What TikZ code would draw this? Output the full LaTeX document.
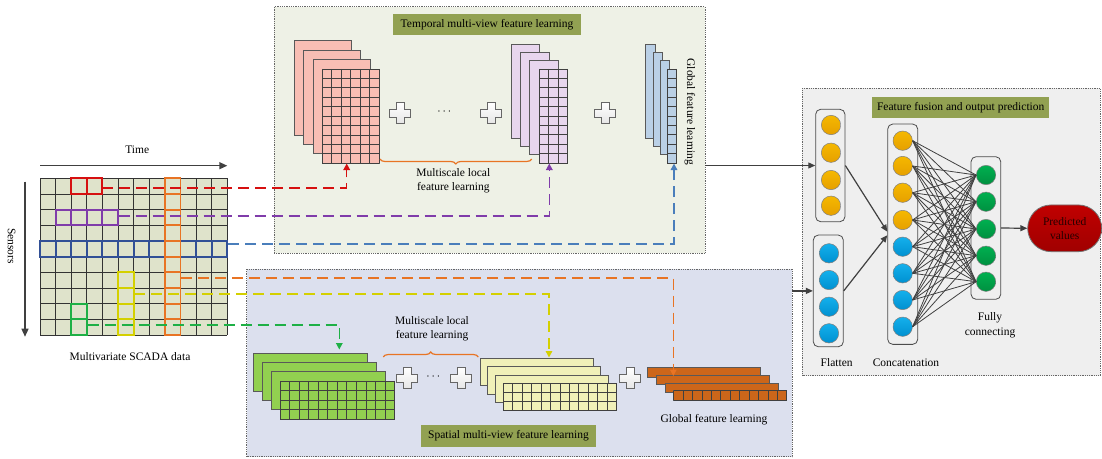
\documentclass[tikz,border=0pt]{standalone}
\usepackage{fontspec}
\setmainfont{Liberation Serif}
\usetikzlibrary{arrows.meta,decorations.pathreplacing,calc,shapes.misc}
\definecolor{tempbg}{RGB}{238,241,230}
\definecolor{spatbg}{RGB}{220,224,238}
\definecolor{fusbg}{RGB}{239,239,239}
\definecolor{olive}{RGB}{146,161,82}
\definecolor{scada}{RGB}{223,227,203}
\definecolor{pinkf}{RGB}{248,190,180}
\definecolor{lavf}{RGB}{232,214,238}
\definecolor{bluef}{RGB}{186,208,230}
\definecolor{greenf}{RGB}{146,208,80}
\definecolor{yellf}{RGB}{240,240,184}
\definecolor{orgf}{RGB}{204,102,26}
\definecolor{lnred}{RGB}{214,16,16}
\definecolor{lnpurp}{RGB}{128,60,170}
\definecolor{lnblue}{RGB}{50,80,150}
\definecolor{lnbluel}{RGB}{74,126,187}
\definecolor{lnorg}{RGB}{232,116,36}
\definecolor{lnyel}{RGB}{212,208,0}
\definecolor{lngreen}{RGB}{30,176,70}
\definecolor{bally}{RGB}{245,184,0}
\definecolor{ballyd}{RGB}{230,160,0}
\definecolor{ballb}{RGB}{20,176,236}
\definecolor{ballbd}{RGB}{0,144,208}
\definecolor{ballg}{RGB}{0,176,80}
\definecolor{ballgd}{RGB}{0,144,64}
\definecolor{predred}{RGB}{192,0,0}
\definecolor{predd}{RGB}{160,0,0}
\newcommand\drawstack[9]{%
  \foreach \k in {0,1,2,3}{%
    \draw[stackline,fill=#9] ({#1+\k*#3},{#2+\k*#4}) rectangle ++(#5,#6);
  }%
  \foreach \i in {0,...,#7}{%
    \draw[gridln] ({#1+3*#3+\i*#5/#7},{#2+3*#4}) -- ++(0,#6);
  }%
  \foreach \j in {0,...,#8}{%
    \draw[gridln] ({#1+3*#3},{#2+3*#4+\j*#6/#8}) -- ++(#5,0);
  }%
}
\begin{document}
\begin{tikzpicture}[x=1pt,y=-1pt,
  font=\fontsize{11.5}{14.2}\selectfont,
  panel/.style={draw=black!60,densely dotted,line width=0.8pt},
  titlebox/.style={fill=olive,inner sep=0pt,text=black},
  stackline/.style={draw=black!65,line width=0.7pt},
  gridln/.style={draw=black!75,line width=0.7pt},
  cellbox/.style={line width=1.9pt},
  conn/.style={line width=1.5pt,dash pattern=on 11pt off 6pt,-{Triangle[length=6.5pt,width=6.5pt]}},
  axisarr/.style={draw=black!75,line width=1.4pt,-{Triangle[length=8pt,width=7pt]}},
  arr/.style={draw=black!75,line width=1.2pt,-{Triangle[length=7pt,width=6pt]}},
  nnbox/.style={draw=black!70,rounded corners=5pt,line width=0.8pt,inner sep=0pt},
  ball/.style={circle,draw=black!50,line width=0.5pt,minimum size=19.4pt,inner sep=0pt},
  yball/.style={ball,top color=bally,bottom color=ballyd},
  bball/.style={ball,top color=ballb,bottom color=ballbd},
  gball/.style={ball,top color=ballg,bottom color=ballgd},
  plussign/.pic={\draw[draw=black!60,line width=1pt,top color=white,bottom color=black!10]
     (-4,-10.5) -- (4,-10.5) -- (4,-4) -- (10.5,-4) -- (10.5,4) -- (4,4) -- (4,10.5)
     -- (-4,10.5) -- (-4,4) -- (-10.5,4) -- (-10.5,-4) -- (-4,-4) -- cycle;},
  lbl/.style={align=center,inner sep=0pt}
]
\useasboundingbox (0,0) rectangle (1102,458);
\fill[white] (0,0) rectangle (1102,458);

% ---------- panels
\draw[panel,fill=tempbg] (274,6.7) rectangle (705,253.3);
\draw[panel,fill=spatbg] (246.7,269) rectangle (792.3,456.7);
\draw[panel,fill=fusbg] (802,88.3) rectangle (1100,375.7);

\node[titlebox,minimum width=187.4pt,minimum height=21pt] (ttitle) at (487,24.5) {Temporal multi-view feature learning};
\node[titlebox,minimum width=175pt,minimum height=21.7pt] (stitle) at (508.5,436) {Spatial multi-view feature learning};
\node[titlebox,minimum width=176.7pt,minimum height=21pt] (ftitle) at (960.7,107.8) {Feature fusion and output prediction};

% ---------- SCADA grid
\def\cw{15.608}\def\chh{15.67}
\fill[scada] (40,178.3) rectangle (227.3,335);
\foreach \i in {0,...,12} \draw[gridln,draw=black!80] ({40+\i*\cw},178.3) -- ++(0,156.7);
\foreach \j in {0,...,10} \draw[gridln,draw=black!80] (40,{178.3+\j*\chh}) -- (227.3,{178.3+\j*\chh});
\foreach \c in {2,3} \draw[cellbox,draw=lnred] ({40+\c*\cw},178.3) rectangle ++(\cw,\chh);
\foreach \c in {1,...,4} \draw[cellbox,draw=lnpurp] ({40+\c*\cw},{178.3+2*\chh}) rectangle ++(\cw,\chh);
\foreach \c in {0,...,11} \draw[cellbox,draw=lnblue] ({40+\c*\cw},{178.3+4*\chh}) rectangle ++(\cw,\chh);
\foreach \r in {6,...,9} \draw[cellbox,draw=lnyel] ({40+5*\cw},{178.3+\r*\chh}) rectangle ++(\cw,\chh);
\foreach \r in {8,9} \draw[cellbox,draw=lngreen] ({40+2*\cw},{178.3+\r*\chh}) rectangle ++(\cw,\chh);
\foreach \r in {0,...,9} \draw[cellbox,draw=lnorg] ({40+8*\cw},{178.3+\r*\chh}) rectangle ++(\cw,\chh);

\coordinate (t0) at (40,165.7); \coordinate (t1) at (227.3,165.7);
\draw[axisarr] (t0) -- (t1);
\node[lbl] (timelbl) at (137.3,150) {Time};
\coordinate (s0) at (25,181.7); \coordinate (s1) at (25,336.7);
\draw[axisarr] (s0) -- (s1);
\node[lbl,rotate=-90] (senslbl) at (11.7,246) {Sensors};
\node[lbl] (scadalbl) at (130,356.7) {Multivariate SCADA data};

% ---------- temporal stacks
\drawstack{294.3}{40.7}{9.3}{9.4}{57}{94.3}{6}{10}{pinkf}
\drawstack{511}{44.3}{9.4}{8.2}{28.5}{94}{3}{10}{lavf}
\drawstack{645.7}{44.3}{7.2}{8.2}{9.2}{94}{1}{10}{bluef}
\pic at (400,113) {plussign};
\pic at (491,113) {plussign};
\pic at (605,113) {plussign};
\node[lbl] (tdots) at (444.3,112) {$\cdots$};
\draw[lnorg,line width=1.2pt,decorate,decoration={brace,mirror,amplitude=5pt}] (380,159) -- (531.7,159);
\node[lbl] (tmlabel) at (453.3,180.5) {Multiscale local\\feature learning};
\node[lbl,rotate=-90] (tglabel) at (690,112) {Global feature learning};

% ---------- spatial stacks
\drawstack{253.3}{353.3}{8.9}{9.2}{114.5}{38}{12}{4}{greenf}
\drawstack{480}{358.3}{7.8}{8.3}{113}{27.5}{12}{3}{yellf}
\drawstack{647.3}{367.3}{8.8}{7.8}{113}{9.6}{12}{1}{orgf}
\pic at (407,378) {plussign};
\pic at (461,378) {plussign};
\pic at (630,378.3) {plussign};
\node[lbl] (sdots) at (433.3,377) {$\cdots$};
\draw[lnorg,line width=1.2pt,decorate,decoration={brace,amplitude=5pt}] (383.3,357) -- (478.3,357);
\node[lbl] (smlabel) at (432,328.7) {Multiscale local\\feature learning};
\node[lbl] (sglabel) at (714,419.3) {Global feature learning};

% ---------- dashed connectors
\coordinate (rs) at (102.3,188); \coordinate (rt) at (346.7,163.5);
\coordinate (ps) at (118.7,216);   \coordinate (pt) at (549.3,163.5);
\coordinate (bs) at (228,244);     \coordinate (bt) at (674,163.5);
\coordinate (os) at (181,278);   \coordinate (ot) at (673.3,376);
\coordinate (ys) at (134,294);     \coordinate (yt) at (549,357.5);
\coordinate (gs) at (87.7,325);    \coordinate (gt) at (339.3,349.5);
\draw[conn,color=lnred] (rs) -| (rt);
\draw[conn,color=lnpurp] (ps) -| (pt);
\draw[conn,color=lnbluel] (bs) -| (bt);
\draw[conn,color=lnorg] (os) -| (ot);
\draw[conn,color=lnyel] (ys) -| (yt);
\draw[conn,color=lngreen] (gs) -| (gt);

% ---------- fusion network
\node[nnbox,minimum width=29.3pt,minimum height=112.4pt] (fl1) at (830.3,165.5) {};
\node[nnbox,minimum width=30pt,minimum height=111.7pt] (fl2) at (828.3,290.9) {};
\node[nnbox,minimum width=30pt,minimum height=220.3pt] (cc) at (902.7,234.2) {};
\node[nnbox,minimum width=29.7pt,minimum height=142.6pt] (fc) at (985.9,228) {};
\node[rounded rectangle,draw=black!55,line width=0.8pt,top color=predred,bottom color=predd,
      minimum width=74pt,minimum height=46.7pt,align=center,inner sep=0pt,text=black!85!red]
      (pred) at (1064.7,228.3) {Predicted\\values};

\foreach \y [count=\n] in {125,152.7,180,205.7} \node[yball] (a\n) at (831,\y) {};
\foreach \y [count=\n] in {253.3,280,306.7,333.3} \node[bball] (b\n) at (829,\y) {};
\foreach \y [count=\n] in {140.7,166,192.7,220} \node[yball] (c\n) at (902.7,\y) {};
\foreach \y [count=\n from 5] in {246.7,273.3,300,326.7} \node[bball] (c\n) at (902.7,\y) {};
\foreach \y [count=\n] in {175,201.7,229,255.7,281.7} \node[gball] (f\n) at (986,\y) {};

\foreach \i in {1,...,8}
  \foreach \j in {1,...,5}
    \draw[black!75,line width=0.8pt] (c\i.east) -- (f\j.west);

\coordinate (tout) at (705,165.5);
\coordinate (sout) at (792.3,290.9);
\draw[arr] (tout) -- (fl1.west);
\draw[arr] (sout) -- (fl2.west);
\draw[arr] (fl1.east) -- ($(cc.west)+(0,-2.5)$);
\draw[arr] (fl2.east) -- ($(cc.west)+(0,1)$);
\draw[arr] (fc.east) -- (pred.west);

\node[lbl] (fllbl) at (836.7,362.3) {Flatten};
\node[lbl] (cclbl) at (906,362.3) {Concatenation};
\node[lbl] (fclbl) at (990,325.3) {Fully\\connecting};
\end{tikzpicture}
\end{document}
